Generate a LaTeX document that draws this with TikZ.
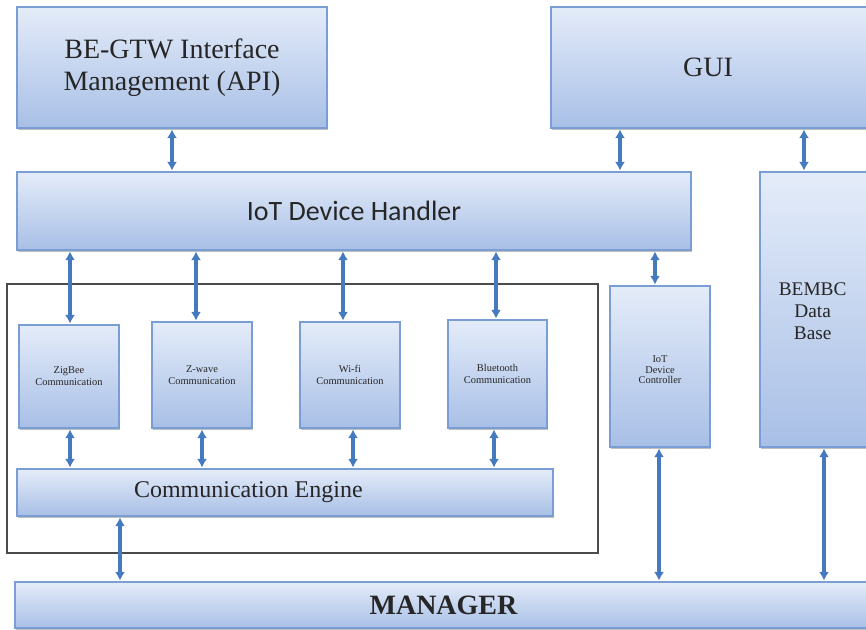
\documentclass[tikz,border=0pt]{standalone}
\usepackage{fontspec}
\setmainfont{Liberation Serif}
\newfontfamily\calibri{Carlito}
\usetikzlibrary{arrows.meta,shadows}
\definecolor{boxtop}{RGB}{228,236,249}
\definecolor{boxbot}{RGB}{168,191,230}
\definecolor{boxline}{RGB}{122,158,212}
\definecolor{arrowblue}{RGB}{70,122,190}
\definecolor{framegray}{RGB}{75,75,75}
\tikzset{
  blockbox/.style={draw=boxline, line width=0.9pt, top color=boxtop, bottom color=boxbot,
    inner sep=0pt, align=center, text=black!85,
    drop shadow={shadow xshift=1pt, shadow yshift=-1.4pt, opacity=0.25, fill=black}},
  bigtext/.style={font=\fontsize{21}{24}\selectfont},
  smalltext/.style={font=\fontsize{7.8}{9}\selectfont},
  link/.style={draw=arrowblue, line width=2.4pt,
    {Latex[length=6.5pt,width=7.5pt]}-{Latex[length=6.5pt,width=7.5pt]}, shorten <=0.6pt, shorten >=0.6pt},
}
\begin{document}
\begin{tikzpicture}[x=0.75pt,y=-0.75pt]
\useasboundingbox (0,0) rectangle (866,629);

% grouping frame around the communication modules
\node[draw=framegray, line width=1pt, fill=white, inner sep=0pt,
      minimum width={591*0.75pt}, minimum height={269*0.75pt},
      drop shadow={shadow xshift=1pt, shadow yshift=-1pt, opacity=0.2, fill=black}]
      (frame) at (302.5,418.5) {};

% upper layer
\node[blockbox, bigtext, minimum width={310*0.75pt}, minimum height={121*0.75pt}]
  (api) at (172,67.5) {BE-GTW Interface\\Management (API)};
\node[blockbox, minimum width={330*0.75pt}, minimum height={121*0.75pt},
  label={[font=\fontsize{21}{24}\selectfont, xshift=-6pt, text=black!85]center:GUI}]
  (gui) at (716,67.5) {};
\node[blockbox, font=\calibri\fontsize{21}{24}\selectfont, minimum width={674*0.75pt}, minimum height={78*0.75pt}]
  (handler) at (354,211) {IoT Device Handler};
\node[blockbox, minimum width={120*0.75pt}, minimum height={275*0.75pt},
  label={[font=\fontsize{14.5}{16.5}\selectfont, align=center, anchor=north, yshift=-80pt, xshift=-5.5pt, text=black!85]north:BEMBC\\Data\\Base}]
  (bembc) at (820,309.5) {};

% communication modules
\node[blockbox, smalltext, minimum width={100*0.75pt}, minimum height={103*0.75pt}]
  (zigbee) at (69,376.5) {ZigBee\\Communication};
\node[blockbox, smalltext, minimum width={100*0.75pt}, minimum height={106*0.75pt}]
  (zwave) at (202,375) {Z-wave\\Communication};
\node[blockbox, smalltext, minimum width={100*0.75pt}, minimum height={106*0.75pt}]
  (wifi) at (350,375) {Wi-fi\\Communication};
\node[blockbox, smalltext, minimum width={99*0.75pt}, minimum height={108*0.75pt}]
  (bt) at (497.5,374) {Bluetooth\\Communication};
\node[blockbox, minimum width={100*0.75pt}, minimum height={161*0.75pt},
  label={[font=\fontsize{7.8}{8}\selectfont, align=center, yshift=-2.5pt, text=black!85]center:IoT\\Device\\Controller}]
  (ctrl) at (660,366.5) {};

% lower layer
\node[blockbox, minimum width={536*0.75pt}, minimum height={47*0.75pt},
  label={[font=\fontsize{18}{20}\selectfont, xshift=-27.5pt, text=black!85]center:Communication Engine}]
  (ce) at (285,492.5) {};
\node[blockbox, minimum width={865*0.75pt}, minimum height={46*0.75pt},
  label={[font=\bfseries\fontsize{21}{24}\selectfont, xshift=-3pt, text=black!85]center:MANAGER}]
  (manager) at (447.5,605) {};

% connectors
\draw[link] (api.south) -- (api.south |- handler.north);
\draw[link] (620,0 |- gui.south) -- (620,0 |- handler.north);
\draw[link] (804,0 |- gui.south) -- (804,0 |- bembc.north);

\draw[link] (70,0 |- handler.south) -- (70,0 |- zigbee.north);
\draw[link] (196,0 |- handler.south) -- (196,0 |- zwave.north);
\draw[link] (343,0 |- handler.south) -- (343,0 |- wifi.north);
\draw[link] (496,0 |- handler.south) -- (496,0 |- bt.north);
\draw[link] (655,0 |- handler.south) -- (655,0 |- ctrl.north);

\draw[link] (70,0 |- zigbee.south) -- (70,0 |- ce.north);
\draw[link] (202,0 |- zwave.south) -- (202,0 |- ce.north);
\draw[link] (353,0 |- wifi.south) -- (353,0 |- ce.north);
\draw[link] (494,0 |- bt.south) -- (494,0 |- ce.north);

\draw[link] (120,0 |- ce.south) -- (120,0 |- manager.north);
\draw[link] (659,0 |- ctrl.south) -- (659,0 |- manager.north);
\draw[link] (824,0 |- bembc.south) -- (824,0 |- manager.north);
\end{tikzpicture}
\end{document}
